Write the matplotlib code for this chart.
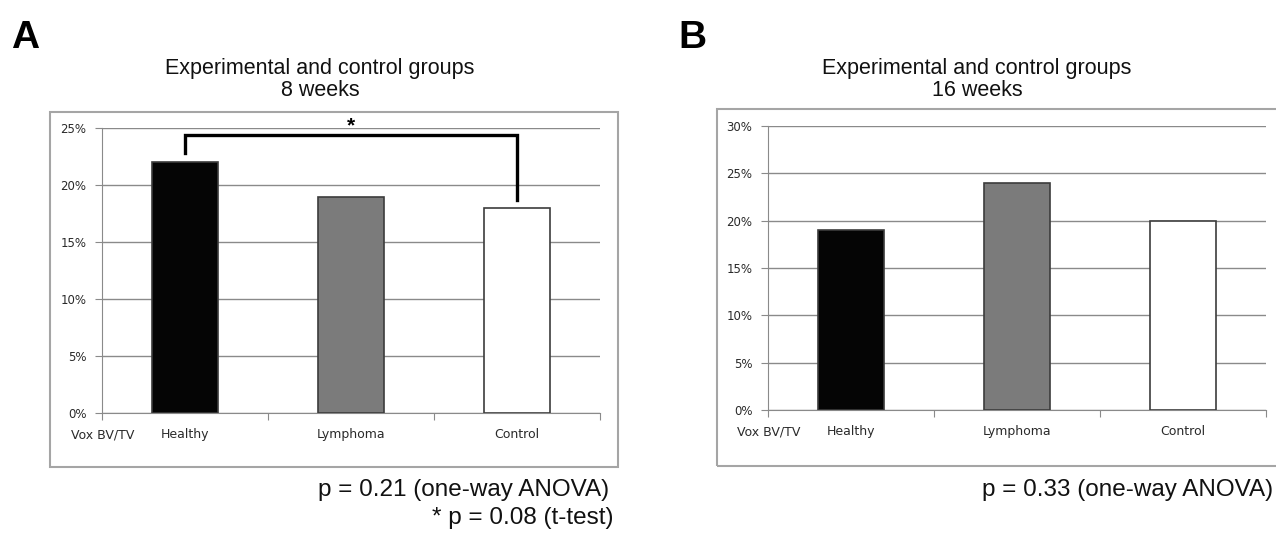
import matplotlib.pyplot as plt
from matplotlib.ticker import PercentFormatter
from matplotlib.patches import Rectangle

groups = ['Healthy', 'Lymphoma', 'Control']
week8 = [22, 19, 18]
week16 = [19, 24, 20]
bar_colors = ['#050505', '#7b7b7b', '#ffffff']

# bracket for the t-test in panel A (left leg, top, right leg)
bracket_y = [22.85, 24.4, 18.7]

W, H = 1276, 538
fig = plt.figure(figsize=(W / 100, H / 100), dpi=100)
grey = '#8a8a8a'


def px_axes(left, top, right, bottom):
    return fig.add_axes([left / W, 1 - bottom / H, (right - left) / W, (bottom - top) / H])


def px_box(left, top, right, bottom):
    fig.add_artist(Rectangle((left / W, 1 - bottom / H), (right - left) / W, (bottom - top) / H,
                             transform=fig.transFigure, fill=False, edgecolor='#a5a5a5', linewidth=1.5))


def draw_panel(ax, values, ymax):
    x = list(range(len(groups)))
    ax.bar(x, values, width=0.4, color=bar_colors, edgecolor='#3c3c3c', linewidth=1.2, zorder=3)
    ax.set_xlim(-0.5, len(groups) - 0.5)
    ax.set_ylim(0, ymax)
    ax.set_yticks(range(0, ymax + 1, 5))
    ax.yaxis.set_major_formatter(PercentFormatter(100, decimals=0))
    ax.xaxis.remove_overlapping_locs = False
    ax.set_xticks([i - 0.5 for i in range(len(groups) + 1)], labels=[''] * (len(groups) + 1))
    ax.set_xticks([-0.5] + x, labels=['Vox BV/TV'] + groups, minor=True)
    ax.tick_params(axis='x', which='minor', length=0, pad=11, labelsize=9, labelcolor='#2a2a2a')
    ax.tick_params(axis='x', which='major', length=5, color=grey)
    ax.tick_params(axis='y', length=5, color=grey, pad=6.5, labelsize=8.5, labelcolor='#2a2a2a')
    ax.yaxis.grid(True, color=grey, linewidth=1)
    ax.set_axisbelow(True)
    for s in ['top', 'right']:
        ax.spines[s].set_visible(False)
    for s in ['left', 'bottom']:
        ax.spines[s].set_color(grey)
    return x


# panel A
px_box(50, 111.7, 617.7, 467.3)
axA = px_axes(102.3, 128.3, 600, 413)
xA = draw_panel(axA, week8, 25)
axA.plot([xA[0], xA[0], xA[2], xA[2]], bracket_y[:2] + bracket_y[1:2] + bracket_y[2:],
         color='black', linewidth=2.4, clip_on=False, solid_joinstyle='miter', zorder=4)
axA.text(xA[1], 25.2, '*', ha='center', va='center', fontsize=15, fontweight='bold',
         family='Liberation Sans', clip_on=False)

# panel B
px_box(716.7, 109.3, 1300, 465.7)
axB = px_axes(768.3, 126, 1266, 410)
draw_panel(axB, week16, 30)

title_font = dict(family='Liberation Sans', fontsize=15.5, color='#111111', ha='center', va='baseline')
fig.text(320 / W, 1 - 74 / H, 'Experimental and control groups', **title_font)
fig.text(320 / W, 1 - 96 / H, '8 weeks', **title_font)
fig.text(977 / W, 1 - 74 / H, 'Experimental and control groups', **title_font)
fig.text(977 / W, 1 - 96 / H, '16 weeks', **title_font)

letter_font = dict(family='Liberation Sans', fontsize=28, fontweight='bold', ha='left', va='baseline')
fig.text(11 / W, 1 - 48 / H, 'A', **letter_font)
fig.text(678 / W, 1 - 48 / H, 'B', **letter_font)

p_font = dict(family='Liberation Sans', fontsize=17.5, color='#111111', ha='right', va='baseline')
fig.text(609 / W, 1 - 496 / H, 'p = 0.21 (one-way ANOVA)', **p_font)
fig.text(614 / W, 1 - 524 / H, '* p = 0.08 (t-test)', **p_font)
fig.text(982 / W, 1 - 496 / H, 'p = 0.33 (one-way ANOVA)', **dict(p_font, ha='left'))

fig.savefig('out.png', dpi=100)
